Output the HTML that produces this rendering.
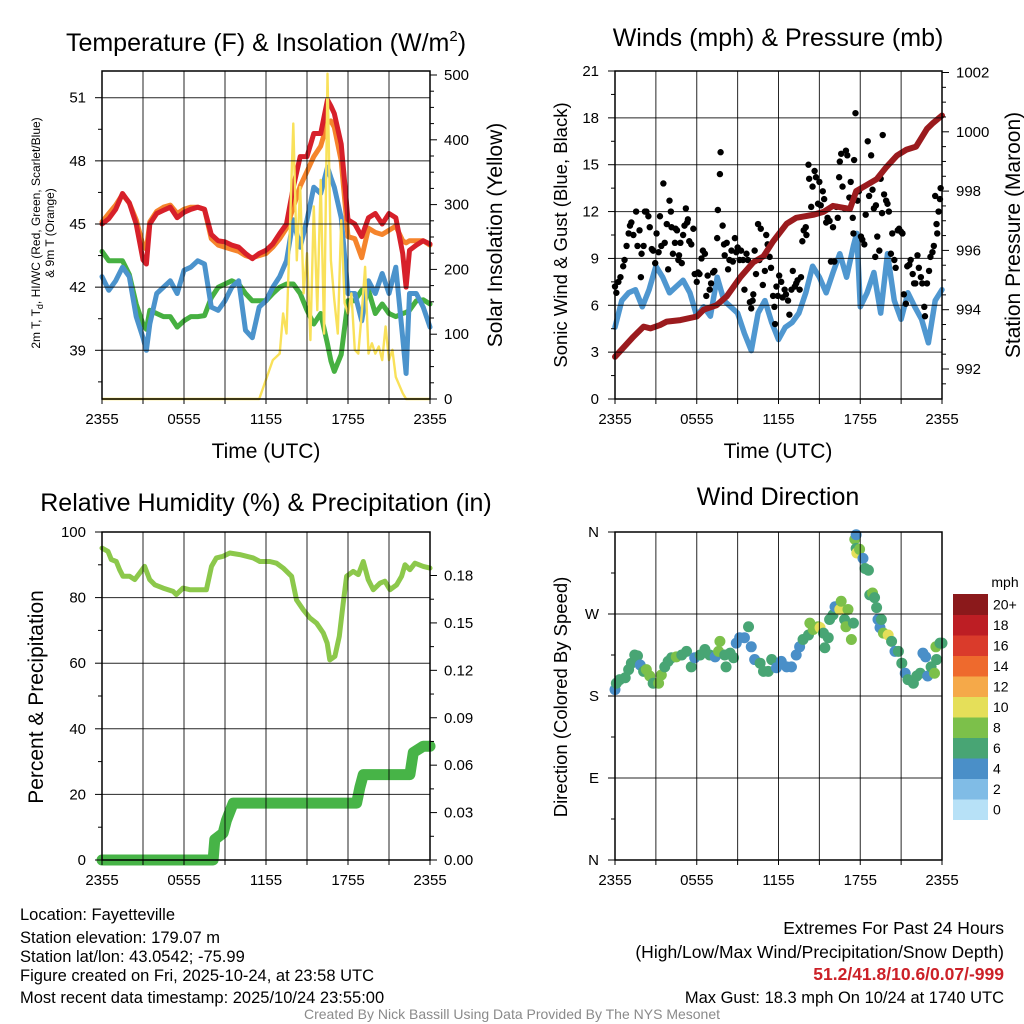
<!DOCTYPE html>
<html><head><meta charset="utf-8"><style>
html,body{margin:0;padding:0;background:#fff}
svg{display:block;font-family:"Liberation Sans",Arial,sans-serif}
</style></head><body>
<svg id="s" width="1024" height="1024" viewBox="0 0 1024 1024" xmlns="http://www.w3.org/2000/svg">
<rect width="1024" height="1024" fill="#fff"/>
<g id="layer"></g>
<!-- titles -->
<text x="266" y="51" font-size="25" text-anchor="middle">Temperature (F) &amp; Insolation (W/m<tspan font-size="15" dy="-10">2</tspan><tspan dy="10">)</tspan></text>
<text x="778" y="46" font-size="25" text-anchor="middle">Winds (mph) &amp; Pressure (mb)</text>
<text x="266" y="511" font-size="25" text-anchor="middle">Relative Humidity (%) &amp; Precipitation (in)</text>
<text x="778" y="505" font-size="25" text-anchor="middle">Wind Direction</text>
<!-- axis titles -->
<text transform="translate(40,233) rotate(-90)" font-size="12" text-anchor="middle">2m T, T<tspan font-size="9" dy="3">d</tspan><tspan dy="-3">, HI/WC (Red, Green, Scarlet/Blue)</tspan></text>
<text transform="translate(54,233) rotate(-90)" font-size="12" text-anchor="middle">&amp; 9m T (Orange)</text>
<text transform="translate(502,235) rotate(-90)" font-size="21" text-anchor="middle">Solar Insolation (Yellow)</text>
<text x="266" y="458" font-size="21" text-anchor="middle">Time (UTC)</text>
<text x="778" y="458" font-size="21" text-anchor="middle">Time (UTC)</text>
<text transform="translate(567,235) rotate(-90)" font-size="18.5" text-anchor="middle">Sonic Wind &amp; Gust (Blue, Black)</text>
<text transform="translate(1020,235) rotate(-90)" font-size="21" text-anchor="middle">Station Pressure (Maroon)</text>
<text transform="translate(43,697) rotate(-90)" font-size="21" text-anchor="middle">Percent &amp; Precipitation</text>
<text transform="translate(567,697) rotate(-90)" font-size="18.5" text-anchor="middle">Direction (Colored By Speed)</text>
<text x="1005" y="587" font-size="14" text-anchor="middle">mph</text>
<!-- footer -->
<g font-size="16.5">
<text x="20" y="920">Location: Fayetteville</text>
<text x="20" y="943">Station elevation: 179.07 m</text>
<text x="20" y="962">Station lat/lon: 43.0542; -75.99</text>
<text x="20" y="981">Figure created on Fri, 2025-10-24, at 23:58 UTC</text>
<text x="20" y="1003">Most recent data timestamp: 2025/10/24 23:55:00</text>
</g>
<g font-size="17.5" text-anchor="end">
<text x="1004" y="934">Extremes For Past 24 Hours</text>
<text x="1004" y="958">(High/Low/Max Wind/Precipitation/Snow Depth)</text>
<text x="1004" y="980" fill="#cc2128" font-weight="bold">51.2/41.8/10.6/0.07/-999</text>
<text x="1004" y="1003" font-size="16.5">Max Gust: 18.3 mph On 10/24 at 1740 UTC</text>
</g>
<text x="512" y="1019" font-size="14" fill="#8a8a8a" text-anchor="middle">Created By Nick Bassill Using Data Provided By The NYS Mesonet</text>
</svg>
<script>
// ---------- data ----------
const timeTicks = ["2355","0555","1155","1755","2355"];
const tempHours = [0,0.5,1,1.5,2,2.5,3,3.25,3.5,4,4.5,5,5.5,6,6.5,7,7.5,8,8.5,9,9.5,10,10.5,11,11.5,12,12.5,13,13.5,14,14.5,15,15.5,16,16.5,16.75,17,17.5,18,18.5,19,19.5,20,20.5,21,21.5,22,22.25,22.5,23,23.5,24];
const tempRed = [45.0,45.25,45.7,46.45,46.0,45.0,43.3,43.1,45.0,45.5,45.65,45.8,45.3,45.55,45.7,45.8,45.7,44.5,44.2,44.15,44.0,43.9,43.6,43.35,43.6,43.75,44.05,44.55,45.0,46.75,48.2,48.2,49.3,49.3,50.9,50.6,50.25,48.8,45.2,45.0,44.4,45.3,45.5,45.0,45.5,45.3,43.6,42.0,43.75,44.0,44.2,44.05];
const tempOrange = [45.1,45.5,45.9,46.4,46.0,45.2,44.0,43.8,45.1,45.6,45.8,45.9,45.5,45.7,45.8,45.8,45.7,44.3,44.0,43.9,43.8,43.7,43.5,43.4,43.5,43.6,43.9,44.3,44.8,45.8,46.8,47.5,48.2,48.7,49.8,49.9,49.6,48.0,44.4,44.3,43.4,44.8,44.6,44.5,44.7,44.9,44.2,44.1,44.2,44.2,44.2,44.0];
const tempBlue = [42.5,41.85,42.3,42.95,42.5,40.6,39.6,39.0,40.25,41.7,42.0,42.3,41.7,42.8,42.95,43.25,43.1,41.05,40.9,41.35,42.0,42.3,39.95,39.6,41.05,41.35,42.0,42.5,43.25,45.2,43.9,45.2,46.75,46.45,47.7,47.2,46.75,45.3,41.7,41.7,40.4,42.3,41.7,42.65,41.7,42.95,39.6,37.9,41.7,41.7,41.05,40.1];
const tempGreen = [43.7,43.25,43.25,43.25,42.6,41.2,40.25,40.0,40.9,40.75,40.6,40.6,40.1,40.4,40.6,40.6,40.65,41.5,42.0,42.15,42.3,42.15,41.7,41.35,41.35,41.35,41.7,42.0,42.15,42.15,41.7,40.9,40.25,40.75,39.3,38.5,38.0,38.8,41.35,41.35,41.85,41.85,40.75,41.2,40.75,40.6,40.75,40.8,40.9,41.35,41.4,41.2];
const solarHours = [0,11.5,12,12.5,13,13.25,13.5,14,14.25,14.5,14.75,15,15.25,15.5,15.75,16,16.25,16.5,16.75,17,17.25,17.5,17.75,18,18.25,18.5,18.75,19,19.25,19.5,19.75,20,20.25,20.5,20.75,21,21.25,21.5,22,22.25,24];
const solarVals = [0,0,30,60,70,132,101,425,214,327,163,225,91,297,137,338,101,502,214,153,101,276,148,132,163,76,70,132,204,70,86,70,81,60,112,60,76,34,9,0,0];
const tempTicks = [39,42,45,48,51];
const solarTicks = [0,100,200,300,400,500];

const windHours = [0,0.5,1,1.5,2,2.5,3,3.5,4,4.5,5,5.5,6,6.5,7,7.5,8,8.5,9,9.5,10,10.5,11,11.5,12,12.5,13,13.5,14,14.5,15,15.5,16,16.5,17,17.5,17.75,18,18.5,19,19.5,20,20.5,21,21.5,22,22.5,23,23.5,24];
const windVals = [4.6,6.3,6.8,7.0,5.9,7.0,8.5,7.8,6.8,7.2,7.6,6.8,5.3,5.9,5.3,7.8,6.3,5.9,5.5,4.2,3.1,5.5,6.3,4.9,3.8,4.6,4.9,5.5,6.8,8.5,7.8,6.8,8.1,9.3,7.8,9.8,10.6,5.9,6.8,8.1,5.5,9.3,6.3,5.1,6.8,5.9,5.1,3.6,6.3,7.0];
const gustHours = [0,0.1,0.25,0.4,0.6,0.7,0.85,1.0,1.1,1.2,1.35,1.55,1.65,1.8,1.9,1.95,2.1,2.2,2.3,2.45,2.55,2.7,2.8,2.95,3.05,3.2,3.3,3.4,3.55,3.65,3.8,3.9,4.0,4.1,4.15,4.25,4.4,4.45,4.55,4.65,4.7,4.8,4.9,5.0,5.1,5.2,5.3,5.35,5.45,5.6,5.75,5.85,6.0,6.1,6.2,6.35,6.45,6.6,6.7,6.8,6.95,7.05,7.2,7.3,7.5,7.55,7.7,7.75,7.9,8.0,8.05,8.2,8.3,8.4,8.55,8.65,8.8,8.9,9.0,9.15,9.25,9.4,9.5,9.65,9.75,9.9,10.0,10.1,10.15,10.25,10.35,10.5,10.6,10.7,10.85,11.0,11.1,11.2,11.35,11.45,11.6,11.7,11.75,11.85,11.95,12.05,12.2,12.3,12.45,12.55,12.7,12.8,12.95,13.05,13.2,13.3,13.4,13.55,13.65,13.75,13.85,14.0,14.05,14.2,14.25,14.4,14.5,14.65,14.75,14.9,15.0,15.1,15.25,15.35,15.5,15.6,15.75,15.85,16.0,16.1,16.25,16.35,16.45,16.5,16.6,16.7,16.85,16.95,17.05,17.2,17.3,17.45,17.5,17.55,17.65,17.8,17.9,18.05,18.15,18.3,18.4,18.55,18.65,18.8,18.9,19.0,19.1,19.15,19.25,19.4,19.5,19.6,19.65,19.75,19.9,20.0,20.1,20.25,20.35,20.5,20.6,20.75,20.85,21.0,21.1,21.2,21.35,21.45,21.6,21.7,21.85,21.95,22.05,22.2,22.3,22.45,22.55,22.7,22.75,22.9,23.05,23.15,23.3,23.4,23.5,23.6,23.65,23.75,23.85,23.9];
const gustVals = [7.2,6.8,7.5,7.8,8.5,8.9,9.8,10.6,11.1,11.3,10.5,12.0,9.8,10.8,7.8,9.3,9.8,12.0,12.0,11.7,11.0,9.6,9.5,8.7,10.6,9.4,11.7,9.8,13.8,10.0,11.2,8.3,12.7,12.0,11.0,9.3,10.0,10.9,10.8,8.9,9.2,10.0,8.7,10.5,11.1,12.2,11.3,11.5,10.1,9.9,10.9,8.0,7.5,8.1,8.0,9.0,9.5,9.3,6.6,7.9,7.0,7.4,8.1,8.2,10.3,12.1,14.4,15.8,11.1,9.9,9.2,10.0,8.3,8.9,9.5,8.8,10.3,9.4,9.7,8.9,9.5,8.9,7.0,9.3,8.9,6.2,5.8,6.3,6.7,9.5,8.0,11.2,8.9,10.9,7.3,8.2,10.5,9.9,9.1,8.4,6.6,5.9,4.8,7.2,6.6,7.9,7.5,6.5,7.0,6.7,6.3,5.4,7.0,8.2,7.2,7.4,7.6,7.0,7.8,10.1,10.8,11.0,10.5,15.0,14.1,12.3,13.6,14.6,14.2,12.5,13.9,12.4,13.3,12.8,11.3,11.6,11.4,8.8,11.0,8.8,12.3,11.6,14.2,15.2,15.7,13.6,12.2,15.9,15.6,12.9,13.9,11.6,10.6,15.3,18.3,12.7,13.3,10.4,10.2,9.9,11.8,16.5,13.0,15.6,13.4,12.2,9.1,12.4,10.4,9.5,14.1,11.9,16.9,13.1,12.7,12.5,12.0,9.3,10.6,8.9,8.4,10.8,10.9,10.7,10.6,6.7,6.1,8.5,8.6,8.9,8.0,7.4,7.4,9.2,8.4,7.8,7.4,5.9,5.3,7.4,8.2,9.1,9.4,9.8,13.0,11.2,10.6,12.0,12.8,13.5];
const presHours = [0,1.35,2.1,2.6,3.3,3.8,4.8,6.0,6.5,7.45,8.2,9.2,10.15,10.9,11.6,12.6,13.3,14.55,15.3,16.0,17.25,17.7,18.45,19.2,19.9,20.7,21.4,22.1,22.9,23.35,24];
const presVals = [992.41,993.09,993.43,993.37,993.48,993.6,993.65,993.77,994.0,994.15,994.45,995.1,995.6,995.8,996.3,996.9,997.1,997.2,997.3,997.5,997.4,998.0,998.2,998.4,998.8,999.2,999.4,999.5,1000.1,1000.3,1000.55];
const windTicks = [0,3,6,9,12,15,18,21];
const presTicks = [992,994,996,998,1000,1002];

const rhHours = [0,0.44,0.68,1.05,1.29,1.54,2.03,2.39,2.76,3.12,3.49,3.86,4.47,5.2,5.44,5.93,6.42,6.91,7.64,8.01,8.37,8.86,9.35,10.08,11.06,11.55,12.28,12.77,13.26,13.87,14.23,14.72,15.21,15.7,16.19,16.48,16.67,17.04,17.36,17.65,17.9,18.38,18.75,19.12,19.48,19.85,20.34,20.7,21.07,21.56,21.92,22.17,22.53,22.9,23.51,24];
const rhVals = [95.1,94.1,91.6,91.0,88.5,86.5,86.5,85.5,87.5,89.5,85.5,83.9,82.9,81.9,80.9,82.9,82.4,82.4,82.4,89.5,92.1,92.6,93.6,93.1,92.1,91.0,91.0,90.5,89.0,86.5,79.3,76.3,73.8,72.2,69.2,66.1,61.0,62.1,68.2,78.3,86.5,88.0,87.0,91.0,85.5,82.4,84.4,85.0,82.4,83.9,86.5,90.0,88.5,90.5,89.5,89.0];
const precipHours = [0,8.13,8.25,8.86,9.1,9.6,18.63,18.87,19.12,22.53,22.78,23.51,24];
const precipVals = [0,0,0.013,0.017,0.025,0.036,0.036,0.046,0.054,0.054,0.068,0.072,0.072];
const rhTicks = [0,20,40,60,80,100];
const precipTicks = ["0.00","0.03","0.06","0.09","0.12","0.15","0.18"];

const dirHours = [0,0.1,0.35,0.75,1.0,1.2,1.45,1.65,1.85,2.1,2.3,2.55,2.8,3.2,3.4,3.65,3.9,4.15,4.5,4.9,5.25,5.6,5.85,6.25,6.6,6.95,7.35,7.6,7.7,8.05,8.15,8.45,8.7,8.9,9.15,9.5,9.8,10.0,10.25,10.65,10.9,11.25,11.5,11.85,12.2,12.6,12.95,13.3,13.55,13.8,14.2,14.3,14.55,14.9,15.05,15.3,15.4,15.65,15.75,16.0,16.15,16.5,16.6,16.85,16.95,17.1,17.35,17.5,17.6,17.7,17.7,17.75,17.95,18.2,18.35,18.6,18.7,18.9,19.05,19.2,19.3,19.45,19.55,19.7,20.05,20.3,20.55,20.8,21.05,21.3,21.5,21.9,22.15,22.4,22.6,22.8,22.95,23.2,23.45,23.55,23.6,23.85,24.0];
const dirDeg = [187,194,198,200,209,216,225,224,214,207,209,202,194,194,203,212,218,222,223,225,229,212,222,225,231,225,223,229,240,225,212,227,222,238,244,244,256,234,220,216,207,207,220,211,218,212,212,225,234,242,247,260,253,256,255,249,233,244,264,269,278,275,284,264,256,275,242,260,352,357,342,337,341,331,320,318,291,293,288,277,264,255,264,249,247,240,229,229,216,205,198,194,202,205,227,223,202,212,205,234,220,238,238];
const dirSpeed = [4,6,6,6,6,6,6,6,4,6,8,8,6,8,8,6,6,6,8,6,6,6,4,6,6,6,4,8,8,6,6,6,6,4,4,4,6,4,4,6,6,6,6,4,4,4,4,4,4,6,6,8,8,8,10,6,6,6,6,6,4,10,8,6,8,8,8,6,8,4,6,10,8,4,6,6,6,8,6,6,4,4,6,8,10,6,4,6,6,4,6,6,6,6,4,4,4,6,8,8,6,6,6];
const dirTickLabels = ["N","E","S","W","N"];
const speedBins = ["0","2","4","6","8","10","12","14","16","18","20+"];
const speedColors = ["#b7e1f7","#80bce6","#4a8fc8","#48a574","#7cc04a","#e5df59","#f5a949","#ee6a2d","#da3b2b","#bd1e24","#8b191b"];

// ---------- helpers ----------
const NS = "http://www.w3.org/2000/svg";
const layer = document.getElementById('layer');
function el(tag, attrs, parent) {
  const e = document.createElementNS(NS, tag);
  for (const k in attrs) e.setAttribute(k, attrs[k]);
  (parent || layer).appendChild(e);
  return e;
}
function txt(x, y, s, size, anchor, parent) {
  const t = el('text', {x: x, y: y, 'font-size': size, 'text-anchor': anchor}, parent);
  t.textContent = s;
  return t;
}
function linear(d0, d1, r0, r1) { return v => r0 + (v - d0) * (r1 - r0) / (d1 - d0); }
function pathD(xs, ys, fx, fy) {
  let d = "";
  const n = Math.min(xs.length, ys.length);
  for (let i = 0; i < n; i++) d += (i ? "L" : "M") + fx(xs[i]).toFixed(1) + "," + fy(ys[i]).toFixed(1);
  return d;
}

function panelFrame(g, L, R, T, B, hLines) {
  const gx = linear(0, 24, L, R);
  for (let h = 3; h < 24; h += 3) {
    const ln = el('line', {x1: gx(h), x2: gx(h), y1: T, y2: B, stroke: '#000', 'stroke-width': 1, 'stroke-opacity': 0.85}, g);
    
    
  }
  hLines.forEach(y => {
    const ln = el('line', {x1: L, x2: R, y1: y, y2: y, stroke: '#000', 'stroke-width': 1, 'stroke-opacity': 0.85}, g);
    
    
  });
  const fr = el('rect', {x: L, y: T, width: R - L, height: B - T, fill: 'none', stroke: '#000', 'stroke-width': 1.5}, g);
  
  
  for (let h = 0; h <= 24; h += 3) el('line', {x1: gx(h), x2: gx(h), y1: B, y2: B + 5, stroke: '#000'}, g);
  timeTicks.forEach((s, i) => {
    const t = txt(gx(i * 6), B + 25, s, 15, 'middle', g);
    
    
  });
}
function axisTicks(g, x, dir, ys, minorYs) {
  ys.forEach(y => el('line', {x1: x, x2: x + dir * 7, y1: y, y2: y, stroke: '#000'}, g));
  minorYs.forEach(y => el('line', {x1: x, x2: x + dir * 4, y1: y, y2: y, stroke: '#000'}, g));
}

// ---------- panel 1: temperature ----------
(function () {
  const L = 102, R = 430, T = 71, B = 399;
  const g = el('g', {});
  
  
  const x = linear(0, 24, L, R);
  const yT = linear(51, 39, 97.7, 350.3);
  const yS = linear(0, 500, 399, 75);
  const series = [[tempGreen, '#46b041', 'dewpoint-line'], [tempBlue, '#4b93cc', 'windchill-line'], [tempOrange, '#f5842c', 'nine-meter-temp-line'], [tempRed, '#d7202a', 'two-meter-temp-line']];
  series.forEach(s => {
    const p = el('path', {d: pathD(tempHours, s[0], x, yT), fill: 'none', stroke: s[1], 'stroke-width': 5, 'stroke-linejoin': 'round', 'stroke-linecap': 'round'}, g);
    
    
  });
  const sp = el('path', {d: pathD(solarHours, solarVals, x, yS), fill: 'none', stroke: '#f9e15a', 'stroke-width': 2.4, 'stroke-linejoin': 'round'}, g);
  
  
  panelFrame(g, L, R, T, B, tempTicks.map(yT));
  const minorT = []; for (let v = 37.5; v <= 52; v += 3) minorT.push(yT(v));
  axisTicks(g, L, -1, tempTicks.map(yT), minorT);
  tempTicks.forEach(v => { const t = txt(L - 16, yT(v) + 5, String(v), 15, 'end', g);   });
  const minorS = []; for (let v = 25; v <= 500; v += 25) if (v % 100) minorS.push(yS(v));
  axisTicks(g, R, 1, solarTicks.map(yS), minorS);
  solarTicks.forEach(v => { const t = txt(R + 14, yS(v) + 5, String(v), 15, 'start', g);   });
})();

// ---------- panel 2: wind ----------
(function () {
  const L = 615, R = 942, T = 71, B = 399;
  const g = el('g', {});
  
  
  const x = linear(0, 24, L, R);
  const yW = linear(0, 21, 399, 71);
  const yP = linear(992, 1002, 369, 72.5);
  const wp = el('path', {d: pathD(windHours, windVals, x, yW), fill: 'none', stroke: '#4f97d0', 'stroke-width': 5.5, 'stroke-linejoin': 'round', 'stroke-linecap': 'round'}, g);
  
  
  const n = Math.min(gustHours.length, gustVals.length);
  for (let i = 0; i < n; i++) {
    const c = el('circle', {cx: x(gustHours[i]), cy: yW(gustVals[i]), r: 3.2, fill: '#000'}, g);
    
    
  }
  const pp = el('path', {d: pathD(presHours, presVals, x, yP), fill: 'none', stroke: '#9b1b1e', 'stroke-width': 6, 'stroke-linejoin': 'round', 'stroke-linecap': 'round'}, g);
  
  
  panelFrame(g, L, R, T, B, windTicks.filter(v => v > 0 && v < 21).map(yW));
  const minorW = []; for (let v = 1.5; v < 21; v += 3) minorW.push(yW(v));
  axisTicks(g, L, -1, windTicks.map(yW), minorW);
  windTicks.forEach(v => { const t = txt(L - 16, yW(v) + 5, String(v), 15, 'end', g);   });
  const minorP = []; for (let v = 991.5; v <= 1002; v += 0.5) if (v % 2) minorP.push(yP(v));
  axisTicks(g, R, 1, presTicks.map(yP), minorP.filter(y => y > T && y < B));
  presTicks.forEach(v => { const t = txt(R + 14, yP(v) + 5, String(v), 15, 'start', g);   });
})();

// ---------- panel 3: humidity ----------
(function () {
  const L = 102, R = 430, T = 532, B = 860;
  const g = el('g', {});
  
  
  const x = linear(0, 24, L, R);
  const yR = linear(0, 100, 860, 532);
  const yQ = linear(0, 0.18, 860, 575.5);
  const pr = el('path', {d: pathD(precipHours, precipVals, x, yQ), fill: 'none', stroke: '#47b447', 'stroke-width': 11, 'stroke-linejoin': 'round', 'stroke-linecap': 'round'}, g);
  
  
  const rh = el('path', {d: pathD(rhHours, rhVals, x, yR), fill: 'none', stroke: '#8cc84b', 'stroke-width': 5, 'stroke-linejoin': 'round', 'stroke-linecap': 'round'}, g);
  
  
  panelFrame(g, L, R, T, B, rhTicks.filter(v => v > 0 && v < 100).map(yR));
  const minorR = []; for (let v = 10; v < 100; v += 20) minorR.push(yR(v));
  axisTicks(g, L, -1, rhTicks.map(yR), minorR);
  rhTicks.forEach(v => { const t = txt(L - 16, yR(v) + 5, String(v), 15, 'end', g);   });
  const minorQ = []; for (let v = 0.015; v < 0.19; v += 0.03) minorQ.push(yQ(v));
  axisTicks(g, R, 1, precipTicks.map(s => yQ(parseFloat(s))), minorQ);
  precipTicks.forEach(s => { const t = txt(R + 14, yQ(parseFloat(s)) + 5, s, 15, 'start', g);   });
})();

// ---------- panel 4: direction ----------
(function () {
  const L = 615, R = 942, T = 532, B = 860;
  const g = el('g', {});
  
  
  const x = linear(0, 24, L, R);
  const yD = linear(0, 360, 860, 532);
  const n = Math.min(dirHours.length, dirDeg.length, dirSpeed.length);
  for (let i = 0; i < n; i++) {
    const bin = Math.min(10, Math.floor(dirSpeed[i] / 2));
    const c = el('circle', {cx: x(dirHours[i]), cy: yD(dirDeg[i]), r: 5.5, fill: speedColors[bin]}, g);
    
    
  }
  panelFrame(g, L, R, T, B, [90, 180, 270].map(yD));
  axisTicks(g, L, -1, [0, 90, 180, 270, 360].map(yD), [45, 135, 225, 315].map(yD));
  dirTickLabels.forEach((s, i) => { const t = txt(L - 16, yD(i * 90) + 5, s, 15, 'end', g);   });
  // colorbar
  const cb = el('g', {}, g);
  
  
  const top = 594, h = 20.5;
  speedBins.forEach((s, i) => {
    const k = speedBins.length - 1 - i;
    const r = el('rect', {x: 953, y: top + k * h, width: 35, height: h + 0.5, fill: speedColors[i]}, cb);
    
    
    const t = txt(993, top + k * h + h / 2 + 5, s, 14, 'start', cb);
    
    
  });
})();
</script>
</body></html>
